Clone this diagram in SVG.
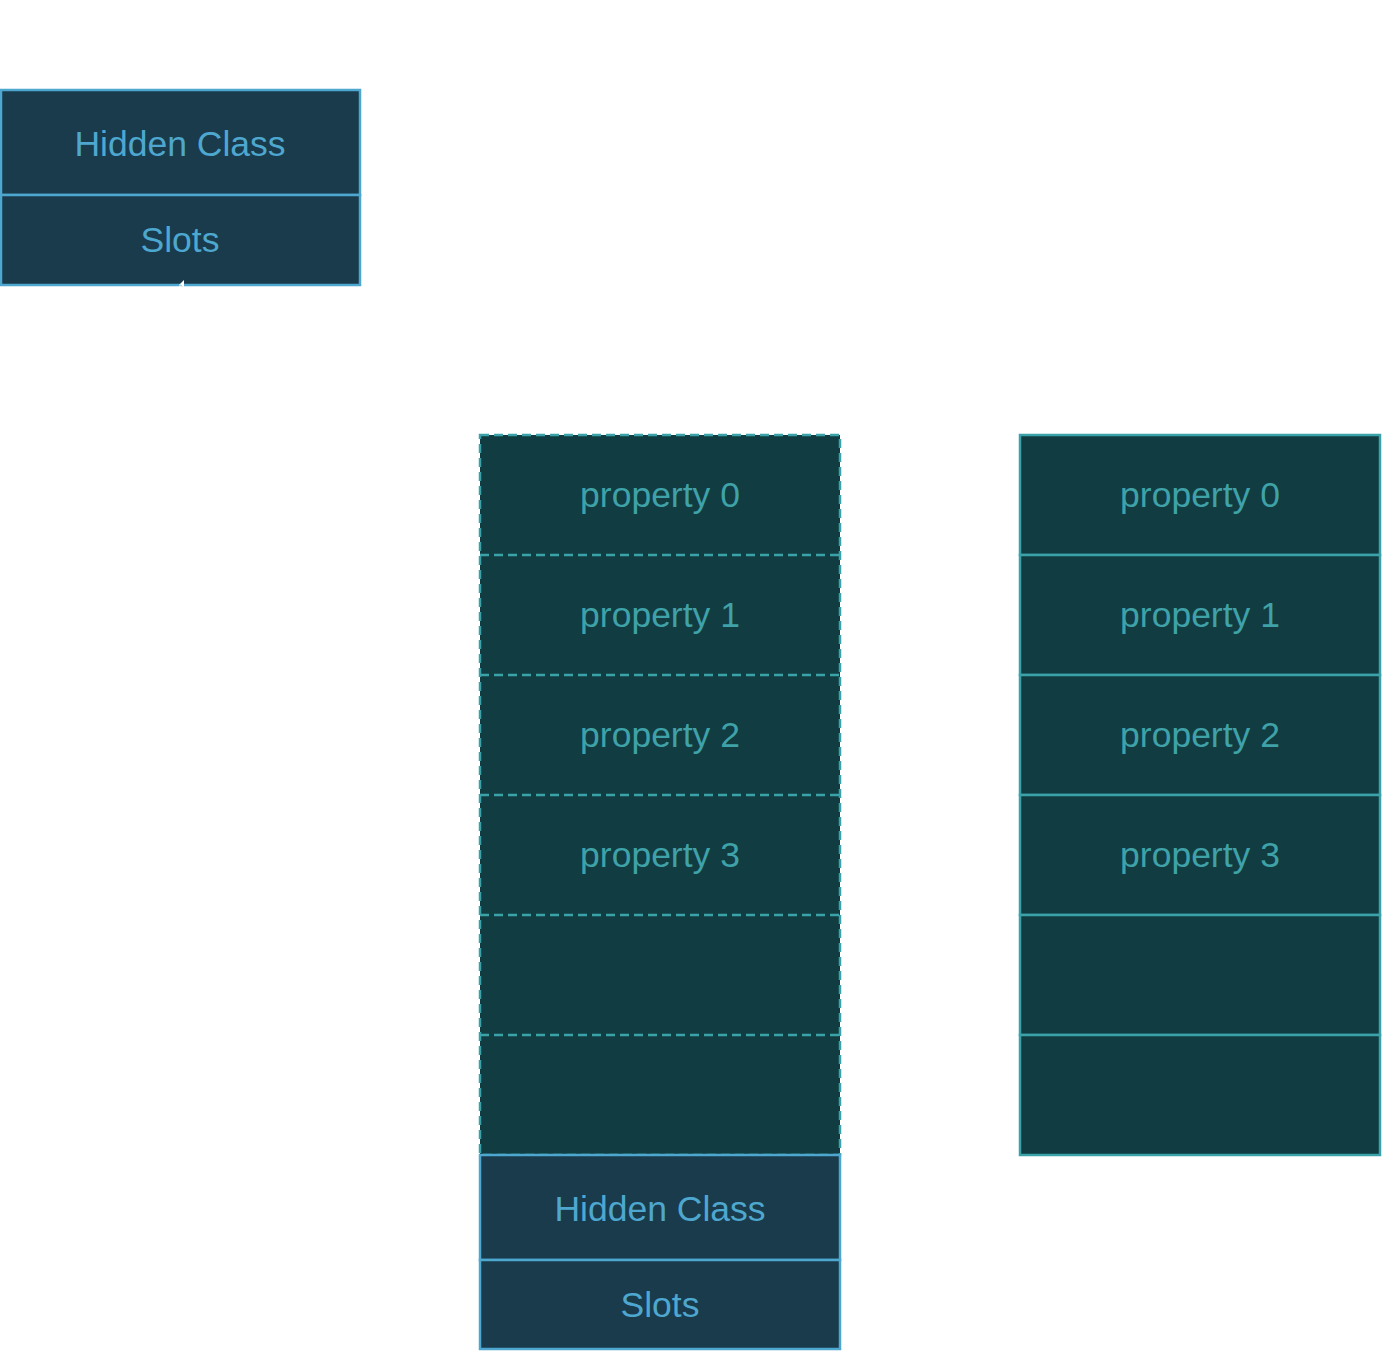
<svg xmlns="http://www.w3.org/2000/svg" width="1383" height="1353" viewBox="0 0 1383 1353">
<style>
.hc{fill:#193b4c;stroke:#4ea7cf;stroke-width:2.5}
.pf{fill:#113c41}
.pd{fill:none;stroke:#3aa2a8;stroke-width:2.5;stroke-dasharray:9 5}
.ps{fill:#113c41;stroke:#3aa2a8;stroke-width:2.5}
.th{fill:#4ea7cf;font-family:"Liberation Sans",Arial,sans-serif;font-size:35.5px;text-anchor:middle;dominant-baseline:central}
.tp{fill:#3fa2a8;font-family:"Liberation Sans",Arial,sans-serif;font-size:35.5px;text-anchor:middle;dominant-baseline:central}
</style>
<defs>
<marker id="wa" markerWidth="8" markerHeight="8" refX="4" refY="0" orient="auto" markerUnits="userSpaceOnUse"><path d="M0,4 L4,0 L8,4 Z" fill="#ffffff"/></marker>
</defs>
<rect width="1383" height="1353" fill="#ffffff"/>
<g id="obj1">
<rect class="hc" x="1" y="90" width="359" height="105"/>
<text class="th" x="180" y="144">Hidden Class</text>
<rect class="hc" x="1" y="195" width="359" height="90"/>
<text class="th" x="180" y="240">Slots</text>
</g>
<g id="backing-dashed">
<rect class="pf" x="480" y="435" width="360" height="720"/>
<rect class="pd" x="480" y="435" width="360" height="720"/>
<line class="pd" x1="480" y1="555" x2="840" y2="555"/>
<line class="pd" x1="480" y1="675" x2="840" y2="675"/>
<line class="pd" x1="480" y1="795" x2="840" y2="795"/>
<line class="pd" x1="480" y1="915" x2="840" y2="915"/>
<line class="pd" x1="480" y1="1035" x2="840" y2="1035"/>
<text class="tp" x="660" y="495">property 0</text>
<text class="tp" x="660" y="615">property 1</text>
<text class="tp" x="660" y="735">property 2</text>
<text class="tp" x="660" y="855">property 3</text>
</g>
<g id="obj2">
<rect class="hc" x="480" y="1155" width="360" height="105"/>
<text class="th" x="660" y="1209">Hidden Class</text>
<rect class="hc" x="480" y="1260" width="360" height="89"/>
<text class="th" x="660" y="1305">Slots</text>
</g>
<g id="backing-solid">
<rect class="ps" x="1020" y="435" width="360" height="120"/><text class="tp" x="1200" y="495">property 0</text>
<rect class="ps" x="1020" y="555" width="360" height="120"/><text class="tp" x="1200" y="615">property 1</text>
<rect class="ps" x="1020" y="675" width="360" height="120"/><text class="tp" x="1200" y="735">property 2</text>
<rect class="ps" x="1020" y="795" width="360" height="120"/><text class="tp" x="1200" y="855">property 3</text>
<rect class="ps" x="1020" y="915" width="360" height="120"/>
<rect class="ps" x="1020" y="1035" width="360" height="120"/>
</g>
<g id="connectors">
<line x1="180" y1="300" x2="180" y2="284" stroke="#ffffff" stroke-width="1" marker-end="url(#wa)"/>
</g>
</svg>
